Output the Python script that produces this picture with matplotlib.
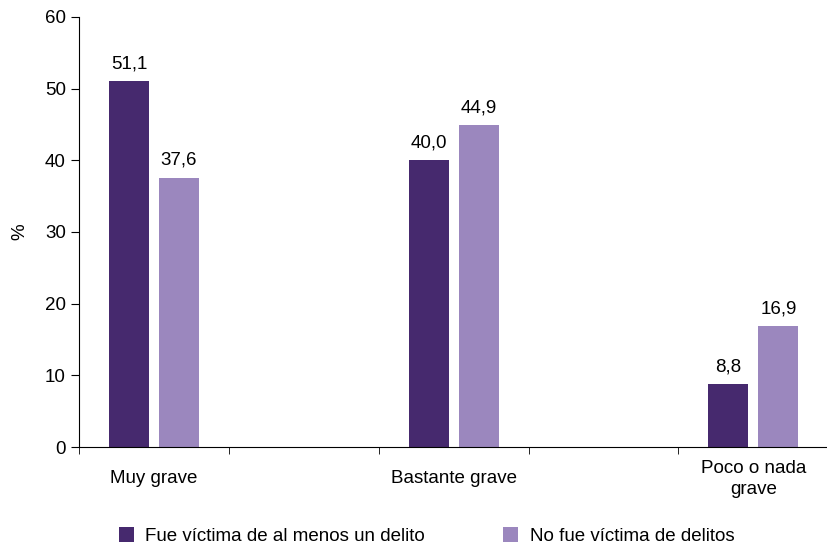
import matplotlib.pyplot as plt
import numpy as np

plt.rcParams['font.family'] = ['Liberation Sans', 'DejaVu Sans']

categories = ['Muy grave', 'Bastante grave', 'Poco o nada\ngrave']
victima = [51.1, 40.0, 8.8]
no_victima = [37.6, 44.9, 16.9]
series_names = ['Fue víctima de al menos un delito', 'No fue víctima de delitos']

dark = '#46296e'
light = '#9b87be'
fs = 13.5

fig = plt.figure(figsize=(8.28, 5.44), dpi=100)
ax = fig.add_axes([0.0954, 0.1783, 0.905, 0.7905])

pos = np.array([0, 2, 4])
w = 0.267
off = 0.167

b1 = ax.bar(pos - off, victima, w, color=dark, label=series_names[0])
b2 = ax.bar(pos + off, no_victima, w, color=light, label=series_names[1])

for rects, vals in ((b1, victima), (b2, no_victima)):
    for r, v in zip(rects, vals):
        ax.text(r.get_x() + r.get_width() / 2, v + 1.2, f'{v:.1f}'.replace('.', ','),
                ha='center', va='bottom', fontsize=fs)

ax.set_xlim(-0.5, 4.5)
ax.set_ylim(0, 60)
ax.set_yticks(range(0, 61, 10))
ax.set_xticks(pos)
ax.set_xticklabels(categories, fontsize=fs, va='center', linespacing=1.3)
ax.set_xticks(np.arange(-0.5, 4.6, 1), minor=True)
ax.tick_params(axis='x', which='major', length=0, pad=23)
ax.tick_params(axis='x', which='minor', length=5, direction='out')
ax.tick_params(axis='y', labelsize=fs, length=6, direction='out')
ax.set_ylabel('%', fontsize=fs, labelpad=12)

for s in ('top', 'right'):
    ax.spines[s].set_visible(False)

fig.legend(loc='lower center', ncol=2, frameon=False, fontsize=fs,
           bbox_to_anchor=(0.515, -0.033), handlelength=0.8, handleheight=0.8,
           columnspacing=4.2, handletextpad=0.6)

fig.savefig('out.png', dpi=100)
